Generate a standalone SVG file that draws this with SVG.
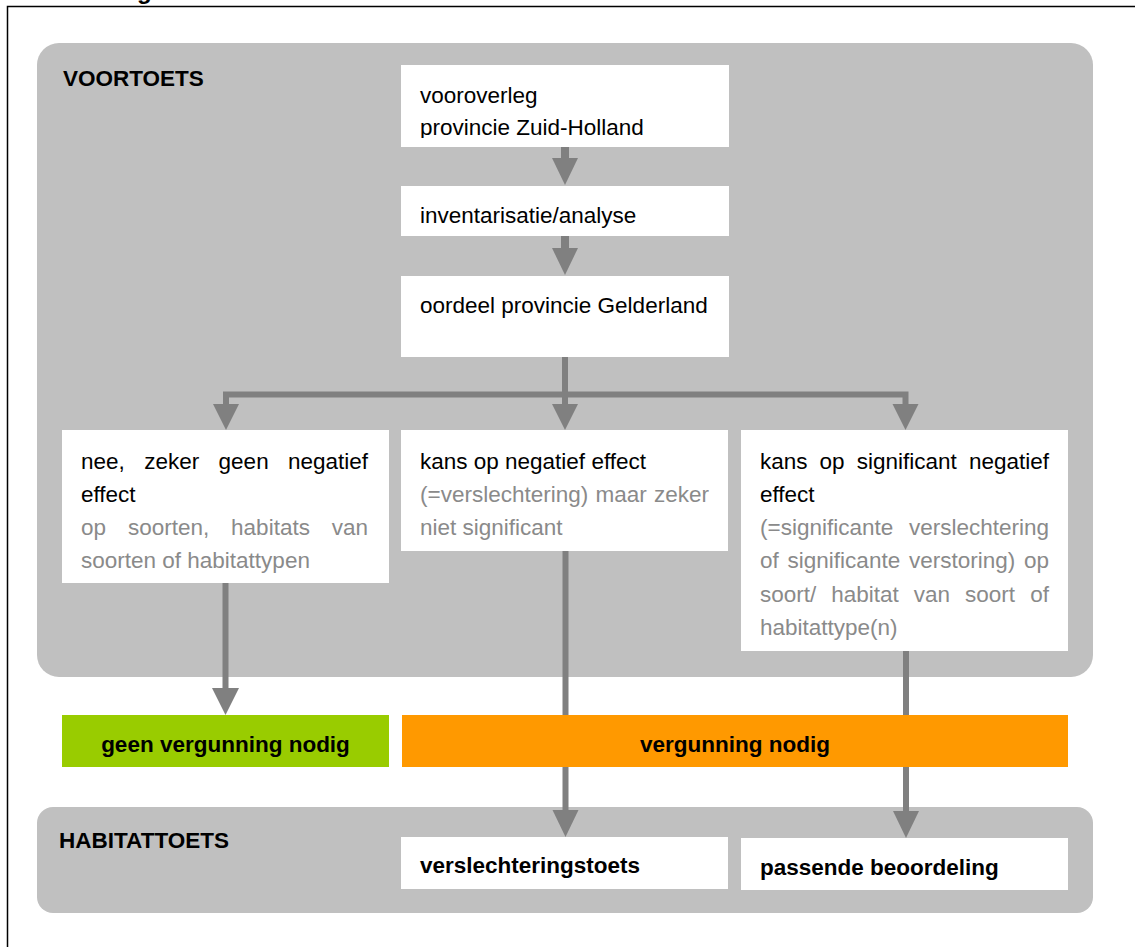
<svg xmlns="http://www.w3.org/2000/svg" width="1135" height="947" viewBox="0 0 1135 947">
<defs>
<style>
text{font-family:"Liberation Sans",Arial,sans-serif;font-size:22.5px;fill:#000}
.b{font-weight:bold}
.g{fill:#8a8a8a}
.panel{fill:#c0c0c0}
.box{fill:#fff}
.ln{stroke:#808080;fill:none}
.hd{fill:#808080}
</style>
<clipPath id="clip1"><rect x="401" y="65" width="328" height="73"/></clipPath>
</defs>
<rect x="0" y="0" width="1135" height="947" fill="#fff"/>
<text class="b" x="137" y="-1" style="font-size:24px">g</text>
<path d="M7.5 947 V6.5 H1135" stroke="#000" stroke-width="1.5" fill="none"/>

<g id="voortoets">
<rect class="panel" x="37" y="43" width="1056" height="634" rx="22"/>
<text class="b" x="63" y="86">VOORTOETS</text>
</g>
<g id="habitattoets">
<rect class="panel" x="37" y="807" width="1056" height="106" rx="16"/>
<text class="b" x="59" y="848">HABITATTOETS</text>
</g>

<g id="connectors">
<path class="ln" stroke-width="8" d="M565 147 V160 M565 236 V250"/>
<polygon class="hd" points="552,158 578,158 565,185"/>
<polygon class="hd" points="552,248 578,248 565,275"/>
<path class="ln" stroke-width="6" d="M565 357 V406 M226 406 V394.5 H905.5 V406"/>
<polygon class="hd" points="213,404 239,404 226,430"/>
<polygon class="hd" points="552,404 578,404 565,430"/>
<polygon class="hd" points="892.5,404 918.5,404 905.5,430"/>
<path class="ln" stroke-width="6" d="M225.5 583 V690 M565.5 551 V812 M906 651 V812"/>
<polygon class="hd" points="212,688 239,688 225.5,715"/>
<polygon class="hd" points="552.5,810 578.5,810 565.5,837"/>
<polygon class="hd" points="893,811 919,811 906,838"/>
</g>

<g id="n-vooroverleg">
<rect class="box" x="401" y="65" width="328" height="82"/>
<g clip-path="url(#clip1)">
<text x="420" y="103">vooroverleg</text>
<text x="420" y="135">provincie Zuid-Holland</text>
</g>
</g>
<g id="n-inventarisatie">
<rect class="box" x="401" y="186" width="328" height="50"/>
<text x="420" y="223">inventarisatie/analyse</text>
</g>
<g id="n-oordeel">
<rect class="box" x="401" y="276" width="328" height="81"/>
<text x="420" y="313">oordeel provincie Gelderland</text>
</g>

<g id="n-nee">
<rect class="box" x="62" y="430" width="327" height="153"/>
<text y="469"><tspan x="81">nee,</tspan><tspan x="144.2">zeker</tspan><tspan x="218.6">geen</tspan></text>
<text x="368" y="469" text-anchor="end">negatief</text>
<text x="81" y="502">effect</text>
<text class="g" y="535"><tspan x="81">op</tspan><tspan x="127.9">soorten,</tspan><tspan x="231.1">habitats</tspan></text>
<text class="g" x="368" y="535" text-anchor="end">van</text>
<text class="g" x="81" y="568">soorten of habitattypen</text>
</g>

<g id="n-kans">
<rect class="box" x="401" y="430" width="327" height="121"/>
<text x="420" y="469">kans op negatief effect</text>
<text class="g" y="502"><tspan x="420">(=verslechtering)</tspan><tspan x="595.5">maar</tspan></text>
<text class="g" x="709" y="502" text-anchor="end">zeker</text>
<text class="g" x="420" y="535">niet significant</text>
</g>

<g id="n-significant">
<rect class="box" x="741" y="430" width="327" height="221"/>
<text y="469"><tspan x="760">kans</tspan><tspan x="819.6">op</tspan><tspan x="856.8">significant</tspan></text>
<text x="1049" y="469" text-anchor="end">negatief</text>
<text x="760" y="502">effect</text>
<text class="g" x="760" y="535">(=significante</text>
<text class="g" x="1049" y="535" text-anchor="end">verslechtering</text>
<text class="g" y="568"><tspan x="760">of</tspan><tspan x="787.6">significante</tspan><tspan x="908.9">verstoring)</tspan></text>
<text class="g" x="1049" y="568" text-anchor="end">op</text>
<text class="g" y="602"><tspan x="760">soort/</tspan><tspan x="831.3">habitat</tspan><tspan x="913.8">van</tspan><tspan x="965.1">soort</tspan></text>
<text class="g" x="1049" y="602" text-anchor="end">of</text>
<text class="g" x="760" y="635">habitattype(n)</text>
</g>

<g id="n-geen-vergunning">
<rect x="62" y="715" width="327" height="52" fill="#99cc00"/>
<text class="b" x="225.5" y="752" text-anchor="middle">geen vergunning nodig</text>
</g>
<g id="n-vergunning">
<rect x="402" y="715" width="666" height="52" fill="#ff9900"/>
<text class="b" x="735" y="752" text-anchor="middle">vergunning nodig</text>
</g>

<g id="n-verslechteringstoets">
<rect class="box" x="401" y="837" width="327" height="52"/>
<text class="b" x="420" y="873">verslechteringstoets</text>
</g>
<g id="n-passende">
<rect class="box" x="741" y="838" width="327" height="52"/>
<text class="b" x="760" y="875">passende beoordeling</text>
</g>
</svg>
